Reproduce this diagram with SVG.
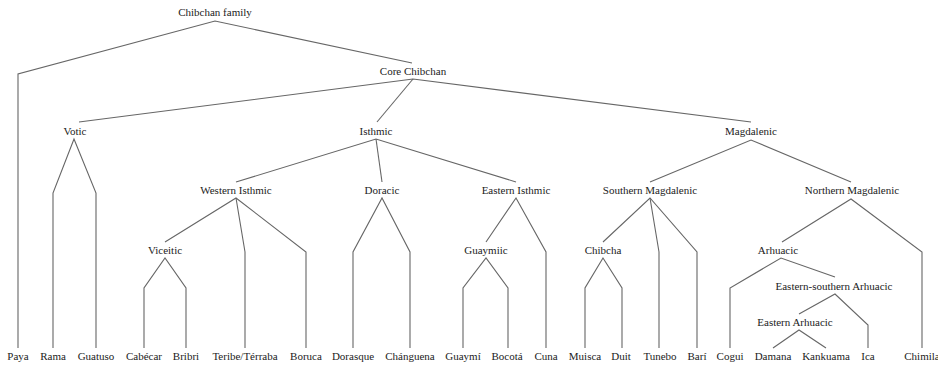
<svg xmlns="http://www.w3.org/2000/svg" width="938" height="365" viewBox="0 0 938 365">
<style>
text{font-family:"Liberation Serif","DejaVu Serif",serif;font-size:11px;fill:#222;text-anchor:middle}
.e{fill:none;stroke:#666;stroke-width:1.1;stroke-linejoin:miter}
</style>
<rect width="938" height="365" fill="#fff"/>
<g id="connectors">
<polyline class="e" points="18,348 18,74 215,21 412,63"/>
<polyline class="e" points="79,122 413,79 751,122"/>
<line class="e" x1="413" y1="79" x2="377" y2="122"/>
<polyline class="e" points="53,348 53,193 74,139 96,193 96,348"/>
<polyline class="e" points="236,182 376,139 516,182"/>
<line class="e" x1="376" y1="139" x2="382" y2="182"/>
<polyline class="e" points="650,182 751,140 851,182"/>
<polyline class="e" points="165,242 236,198 306,252 306,348"/>
<polyline class="e" points="236,198 245,252 245,348"/>
<polyline class="e" points="353,348 353,252 382,198 410,252 410,348"/>
<polyline class="e" points="144,348 144,288 165,258 186,288 186,348"/>
<polyline class="e" points="486,242 516,198 546,252 546,348"/>
<polyline class="e" points="463,348 463,288 486,258 508,288 508,348"/>
<polyline class="e" points="603,242 650,198 697,252 697,348"/>
<polyline class="e" points="650,198 659,252 659,348"/>
<polyline class="e" points="585,348 585,288 603,258 622,288 622,348"/>
<polyline class="e" points="782,242 851,199 922,252 922,348"/>
<polyline class="e" points="730,348 730,288 781,258 835,277"/>
<polyline class="e" points="799,314 835,294 868,325 868,348"/>
<polyline class="e" points="773,348 799,330 826,348"/>
</g>
<g id="n-chibchan-family"><text x="215" y="16">Chibchan family</text></g>
<g id="n-core-chibchan"><text x="413" y="75">Core Chibchan</text></g>
<g id="n-votic"><text x="75" y="135">Votic</text></g>
<g id="n-isthmic"><text x="376" y="135">Isthmic</text></g>
<g id="n-magdalenic"><text x="751" y="135">Magdalenic</text></g>
<g id="n-western-isthmic"><text x="236" y="194">Western Isthmic</text></g>
<g id="n-doracic"><text x="382" y="194">Doracic</text></g>
<g id="n-eastern-isthmic"><text x="516" y="194">Eastern Isthmic</text></g>
<g id="n-southern-magdalenic"><text x="650" y="194">Southern Magdalenic</text></g>
<g id="n-northern-magdalenic"><text x="852" y="194">Northern Magdalenic</text></g>
<g id="n-viceitic"><text x="165" y="254">Viceitic</text></g>
<g id="n-guaymiic"><text x="486" y="254">Guaymiic</text></g>
<g id="n-chibcha"><text x="603" y="254">Chibcha</text></g>
<g id="n-arhuacic"><text x="778" y="254">Arhuacic</text></g>
<g id="n-eastern-southern-arhuacic"><text x="834" y="290">Eastern-southern Arhuacic</text></g>
<g id="n-eastern-arhuacic"><text x="795" y="326">Eastern Arhuacic</text></g>
<g id="n-paya"><text x="18" y="360">Paya</text></g>
<g id="n-rama"><text x="53" y="360">Rama</text></g>
<g id="n-guatuso"><text x="96" y="360">Guatuso</text></g>
<g id="n-cabecar"><text x="144" y="360">Cabécar</text></g>
<g id="n-bribri"><text x="186" y="360">Bribri</text></g>
<g id="n-teribe"><text x="245" y="360">Teribe/Térraba</text></g>
<g id="n-boruca"><text x="306" y="360">Boruca</text></g>
<g id="n-dorasque"><text x="353" y="360">Dorasque</text></g>
<g id="n-changuena"><text x="410" y="360">Chánguena</text></g>
<g id="n-guaymi"><text x="463" y="360">Guaymí</text></g>
<g id="n-bocota"><text x="507" y="360">Bocotá</text></g>
<g id="n-cuna"><text x="546" y="360">Cuna</text></g>
<g id="n-muisca"><text x="585" y="360">Muisca</text></g>
<g id="n-duit"><text x="621" y="360">Duit</text></g>
<g id="n-tunebo"><text x="660" y="360">Tunebo</text></g>
<g id="n-bari"><text x="697" y="360">Barí</text></g>
<g id="n-cogui"><text x="730" y="360">Cogui</text></g>
<g id="n-damana"><text x="773" y="360">Damana</text></g>
<g id="n-kankuama"><text x="826" y="360">Kankuama</text></g>
<g id="n-ica"><text x="868" y="360">Ica</text></g>
<g id="n-chimila"><text x="922" y="360">Chimila</text></g>
</svg>
